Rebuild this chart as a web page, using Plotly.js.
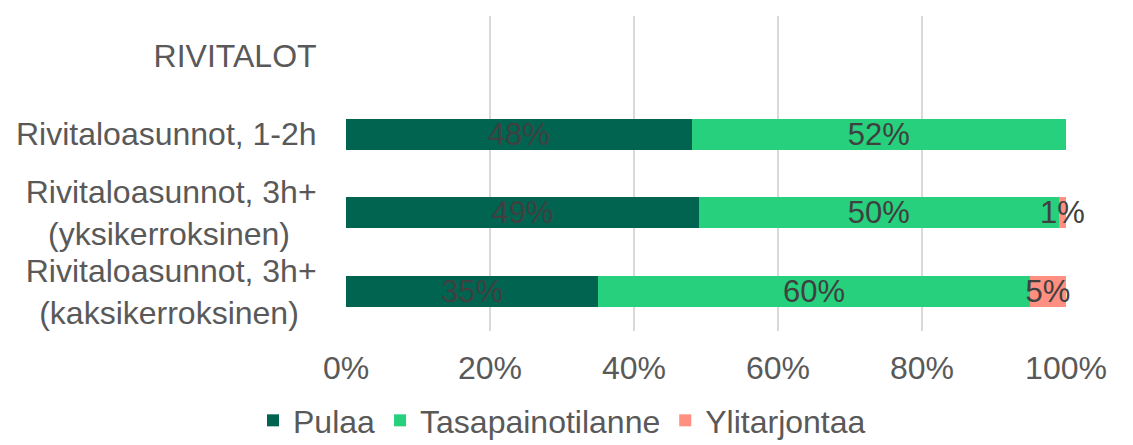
<!DOCTYPE html>
<html>
<head>
<meta charset="utf-8">
<script src="https://cdn.plot.ly/plotly-3.0.1.min.js"></script>
<style>html,body{margin:0;padding:0;background:#fff}#chart{width:1133px;height:445px}</style>
</head>
<body>
<div id="chart"></div>
<script>
const categories = [
  "RIVITALOT",
  "Rivitaloasunnot, 1-2h",
  "Rivitaloasunnot, 3h+<br>(yksikerroksinen)",
  "Rivitaloasunnot, 3h+<br>(kaksikerroksinen)"
];
const pulaa = [null, 48, 49, 35];
const tasapaino = [null, 52, 50, 60];
const ylitarjontaa = [null, null, 1, 5];
const seriesNames = ["Pulaa", "Tasapainotilanne", "Ylitarjontaa"];
const colors = ["#006450", "#26d07c", "#ff8f80"];
const xTickVals = [0, 20, 40, 60, 80, 100];

const font = "'Liberation Sans', Arial, sans-serif";
const labelSize = 32;

// centre the lines of multi-line category labels (Plotly right-aligns them)
const ctx = document.createElement("canvas").getContext("2d");
ctx.font = labelSize + "px 'Liberation Sans', Arial, sans-serif";
const nbspW = ctx.measureText("\u00a0").width;
function centreLines(label) {
  const lines = label.split("<br>");
  if (lines.length < 2) return label;
  const widths = lines.map(l => ctx.measureText(l).width);
  const maxW = Math.max(...widths);
  return lines.map((l, i) => l + "\u00a0".repeat(Math.round((maxW - widths[i]) / 2 / nbspW))).join("<br>");
}
const yTickText = categories.map(centreLines);

function mk(vals, i) {
  return {
    type: "bar",
    orientation: "h",
    name: seriesNames[i],
    y: categories,
    x: vals,
    marker: {color: colors[i], line: {width: 0}},
    text: vals.map(v => v == null ? "" : v + "%"),
    textposition: "inside",
    insidetextanchor: "middle",
    constraintext: "none",
    textangle: 0,
    textfont: {family: font, size: 31, color: "#404040"},
    cliponaxis: false,
    hoverinfo: "skip"
  };
}
const data = [mk(pulaa, 0), mk(tasapaino, 1), mk(ylitarjontaa, 2)];
const layout = {
  width: 1133, height: 445,
  margin: {l: 346, r: 67, t: 16, b: 114},
  barmode: "stack",
  bargap: 0.606,
  paper_bgcolor: "#fff",
  plot_bgcolor: "#fff",
  font: {family: font, size: labelSize, color: "#595959"},
  xaxis: {
    range: [0, 100],
    tickvals: xTickVals,
    ticktext: xTickVals.map(v => v + "%"),
    showgrid: true, gridcolor: "#d9d9d9", gridwidth: 1.5,
    zeroline: false, showline: false,
    ticks: "outside", ticklen: 9, tickcolor: "rgba(0,0,0,0)",
    tickfont: {family: font, size: labelSize, color: "#595959"},
    fixedrange: true
  },
  yaxis: {
    type: "category",
    autorange: "reversed",
    tickmode: "array",
    tickvals: categories,
    ticktext: yTickText,
    showgrid: false, zeroline: false, showline: false,
    ticks: "outside", ticklen: 22, tickcolor: "rgba(0,0,0,0)",
    tickfont: {family: font, size: labelSize, color: "#595959"},
    fixedrange: true
  },
  showlegend: true,
  legend: {
    orientation: "h",
    x: 0.30, xanchor: "center",
    yref: "container",
    y: 0.055, yanchor: "middle",
    font: {family: font, size: 32, color: "#595959"},
    itemwidth: 30,
    traceorder: "normal"
  }
};
Plotly.newPlot("chart", data, layout, {staticPlot: true, displayModeBar: false});
</script>
</body>
</html>
